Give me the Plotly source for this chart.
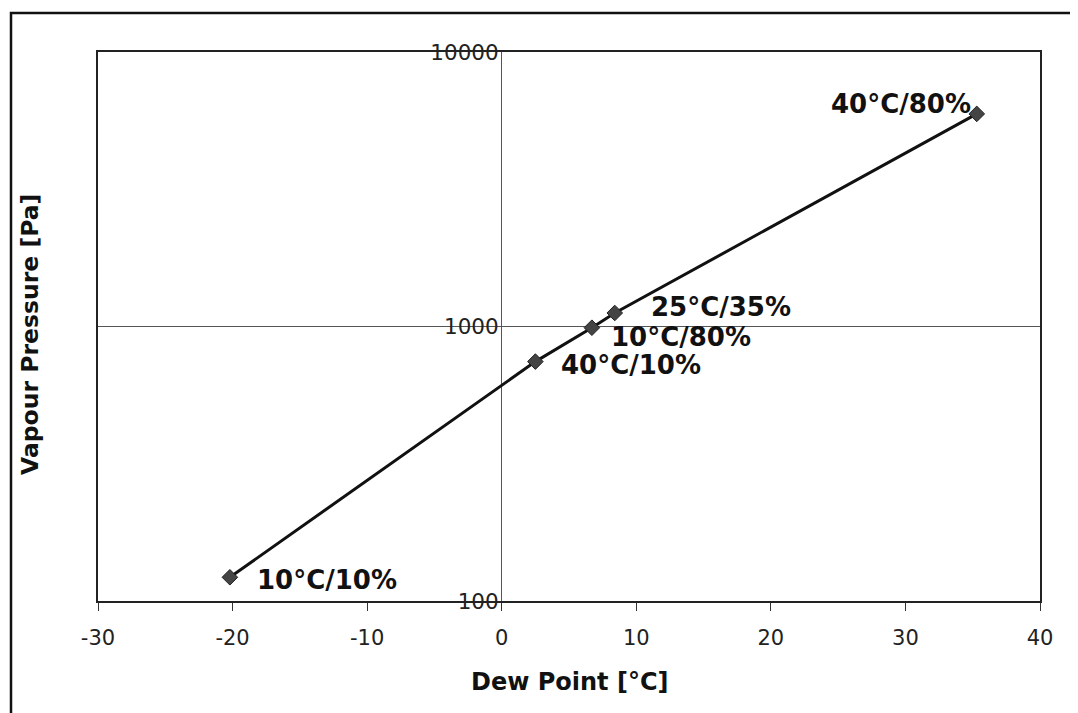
import math
import plotly.graph_objects as go

# Data
labels = ["10°C/10%", "40°C/10%", "10°C/80%", "25°C/35%", "40°C/80%"]
dew_point = [-20.2, 2.5, 6.7, 8.4, 35.3]
vapour_pressure = [122, 745, 990, 1120, 5950]
x_ticks = [-30, -20, -10, 0, 10, 20, 30, 40]
x_tick_text = ["-30", "-20", "-10", "0", "10", "20", "30", "40"]
y_ticks = [100, 1000, 10000]
y_tick_text = ["100", "1000", "10000"]

# label placement offsets (pixels)
label_shift = {
    "10°C/10%": (25, -3, "left"),
    "40°C/10%": (24, -3, "left"),
    "10°C/80%": (17, -9, "left"),
    "25°C/35%": (34, 6, "left"),
    "40°C/80%": (-4, 10, "right"),
}

# page has an 8px body margin; figure sized to fill the rest
OFF = 8
W, H = 1078 - OFF, 713 - OFF
PL, PR, PT, PB = 98, 1040, 52, 601   # plot area in page pixels
L, T = PL - OFF, PT - OFF
R, B = W - (PR - OFF), H - (PB - OFF)
pw, ph = PR - PL, PB - PT

def px2paper(px, py):
    return (px - PL) / pw, (PB - py) / ph

font_family = "DejaVu Sans"

fig = go.Figure()
fig.add_trace(go.Scatter(
    x=dew_point, y=vapour_pressure, mode="lines+markers",
    line=dict(color="#111111", width=3),
    marker=dict(symbol="diamond", size=12, color="#444444",
                line=dict(color="#222222", width=1)),
    showlegend=False, hoverinfo="x+y"))
# dummy trace for the secondary axis (tick labels at x=0)
fig.add_trace(go.Scatter(x=[0], y=[1000], yaxis="y2", mode="markers",
                         marker=dict(opacity=0), showlegend=False,
                         hoverinfo="skip"))

for lab, x, y in zip(labels, dew_point, vapour_pressure):
    dx, dy, anchor = label_shift[lab]
    fig.add_annotation(x=x, y=math.log10(y), text="<b>" + lab + "</b>",
                       showarrow=False, xanchor=anchor, yanchor="middle",
                       xshift=dx, yshift=dy,
                       font=dict(family=font_family, size=26, color="#111111"))

fig.update_layout(
    width=W, height=H,
    margin=dict(l=L, r=R, t=T, b=B, autoexpand=False),
    paper_bgcolor="white", plot_bgcolor="white",
    font=dict(family=font_family, color="#111111"),
    xaxis=dict(range=[-30, 40], tickvals=x_ticks, ticktext=x_tick_text,
               showgrid=False,
               zeroline=True, zerolinecolor="#555555", zerolinewidth=1,
               showline=True, linecolor="#222222", linewidth=1.5, mirror=True,
               ticks="outside", ticklen=8, tickcolor="#333333",
               ticklabelstandoff=9,
               tickfont=dict(size=21, color="#222222"), fixedrange=True),
    yaxis=dict(type="log", range=[2, 4], tickvals=y_ticks,
               showticklabels=False, showgrid=True, gridcolor="#555555",
               gridwidth=1, showline=True, linecolor="#222222", linewidth=1.5,
               mirror=True, ticks="", fixedrange=True),
    yaxis2=dict(type="log", range=[2, 4], tickvals=y_ticks,
                ticktext=y_tick_text,
                overlaying="y", anchor="free", position=30 / 70, side="left",
                showgrid=False, showline=False, ticks="", zeroline=False,
                ticklabelstandoff=3,
                tickfont=dict(size=21.5, color="#222222"), fixedrange=True),
)

# axis titles
tx, ty = px2paper(30, 335)
fig.add_annotation(xref="paper", yref="paper", x=tx, y=ty,
                   text="<b>Vapour Pressure [Pa]</b>", textangle=-90,
                   showarrow=False, xanchor="center", yanchor="middle",
                   font=dict(family=font_family, size=23.5, color="#111111"))
tx, ty = px2paper(570, 682)
fig.add_annotation(xref="paper", yref="paper", x=tx, y=ty,
                   text="<b>Dew Point [°C]</b>",
                   showarrow=False, xanchor="center", yanchor="middle",
                   font=dict(family=font_family, size=24, color="#111111"))

# outer chart frame
x0, y0 = px2paper(11, 13)
x1, y1 = px2paper(1076, 740)
fig.add_shape(type="rect", xref="paper", yref="paper", x0=x0, y0=y1,
              x1=x1, y1=y0, line=dict(color="#111111", width=2.5))

fig.write_html("out.html")
